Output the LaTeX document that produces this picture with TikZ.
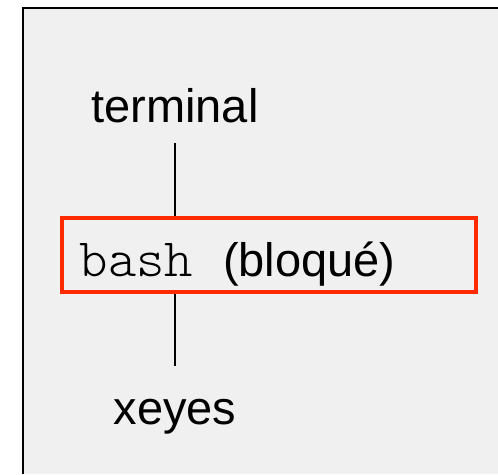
\documentclass[tikz,border=0pt]{standalone}
\usepackage{fontspec}
\setmainfont{Liberation Sans}
\newfontfamily\codefont{lmmonolt10-regular.otf}
\usetikzlibrary{positioning}
\definecolor{bggray}{HTML}{F0F0F0}
\definecolor{blockred}{HTML}{FF2A00}
\newcommand{\bigtxt}{\fontsize{47}{56}\selectfont}

\begin{document}
\begin{tikzpicture}[x=1pt, y=1pt,
  lbl/.style={inner sep=0pt, anchor=base, font=\bigtxt},
  procbox/.style={draw=blockred, line width=4.5pt, fill=bggray,
    minimum width=414pt, minimum height=74pt, inner xsep=18pt,
    text width=378pt, text height=43pt, text depth=0pt,
    align=left, font=\bigtxt},
  link/.style={line width=1.5pt}]
  \useasboundingbox (0,0) rectangle (498,474);
  \fill [bggray] (23,0) rectangle (498,466);
  \draw [line width=2.5pt] (23,0) -- (23,466) -- (498,466);
  \node [lbl] (term) at (175, 351) {terminal};
  \node [procbox] (bash) at (268.75, 219)
    {{\codefont\fontsize{54}{56}\selectfont bash}\hspace{30pt}(bloqué)};
  \node [lbl] (xe) at (175, 49) {xeyes};
  \draw [link, shorten <=19pt] (term.south) -- (term.south |- bash.north);
  \draw [link, shorten >=34pt] (bash.south -| xe.north) -- (xe.north);
\end{tikzpicture}
\end{document}
